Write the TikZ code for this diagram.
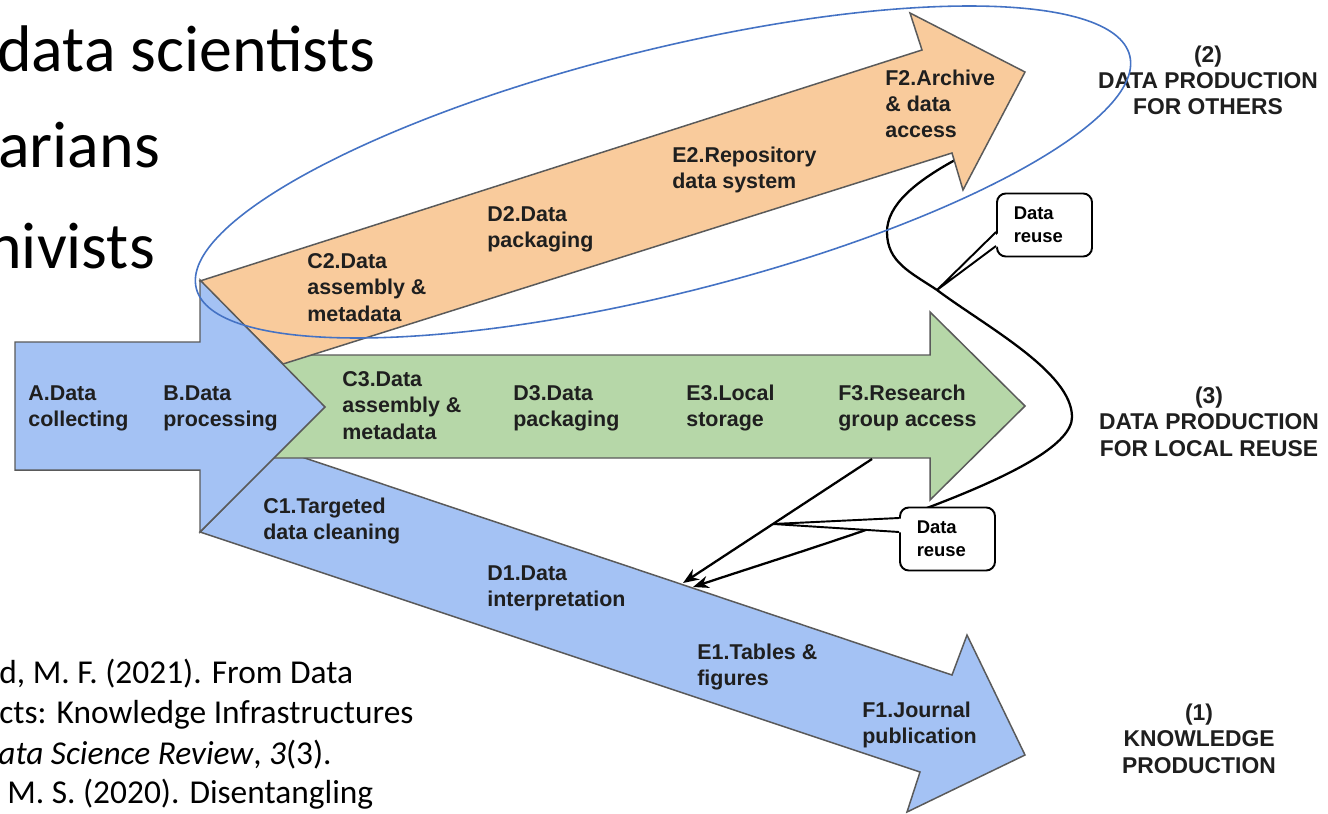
\documentclass[tikz,border=0pt]{standalone}
\usepackage{fontspec}
\setmainfont{Carlito}
\newfontfamily\arialf{Liberation Sans}
\usetikzlibrary{arrows.meta}
\definecolor{bluef}{HTML}{A4C2F4}
\definecolor{orangef}{HTML}{F9CB9C}
\definecolor{greenf}{HTML}{B6D7A8}
\definecolor{edgec}{HTML}{5A5A5A}
\definecolor{ellc}{HTML}{4472C4}
\definecolor{labc}{HTML}{1F1F1F}
\begin{document}
\begin{tikzpicture}[x=0.02cm,y=-0.02cm,
  flow/.style={draw=edgec, line width=0.85pt, line join=miter},
  lab/.style={anchor=base west, inner sep=0pt, align=left, text=labc,
    font=\arialf\bfseries\fontsize{12.2}{15}\selectfont},
  grp/.style={anchor=base, inner sep=0pt, align=center, text=labc,
    font=\arialf\bfseries\fontsize{13}{15}\selectfont},
  big/.style={anchor=base west, inner sep=0pt, font=\fontsize{37.5}{40}\selectfont},
  cite/.style={anchor=base west, inner sep=0pt, font=\fontsize{19}{22.7}\selectfont},
  reuse/.style={draw=black, line width=1.3pt},
  tipa/.style={-{Stealth[length=9pt,width=7pt]}},
  rbox/.style={draw=black, line width=1.1pt, fill=white, rounded corners=5pt,
    minimum width=95*0.02cm, minimum height=63*0.02cm, inner xsep=9pt,
    text width=35pt, align=left,
    font=\arialf\bfseries\fontsize{10.5}{13}\selectfont}
]
\useasboundingbox (0,0) rectangle (1328,814);
\clip (0,0) rectangle (1328,814);
\fill[white] (0,0) rectangle (1328,814);

% left texts
\node[big] (t1) at (-3,72) {data scientists};
\node[big] (t2) at (-2,168) {arians};
\node[big] (t3) at (-13,268) {hivists};

\node[cite] (q1) at (-1,683) {d, M. F. (2021). From Data};
\node[cite] (q2) at (-1,723) {cts: Knowledge Infrastructures};
\node[cite] (q3) at (-2,764) {\itshape ata Science Review\upshape, \itshape 3\upshape(3).};
\node[cite] (q4) at (7,803) {M. S. (2020). Disentangling};

% reuse curve (behind boxes)
\coordinate (c0) at (955,160);
\coordinate (c1) at (887,232);
\coordinate (ap1) at (937,290);
\coordinate (c3) at (1072,417);
\coordinate (c5) at (693,587);
\coordinate (g0) at (872,459);
\coordinate (a1) at (683,583);
\coordinate (ap2) at (773,524);

% arrows
\draw[flow, fill=bluef] (200,532) -- (281,450) -- (952,675) -- (967,635) -- (1025,755) -- (907,812) -- (920,772) -- cycle;
\draw[flow, fill=greenf] (260,355) -- (930,355) -- (930,312) -- (1025,406) -- (930,500) -- (930,458) -- (260,458) -- cycle;
\draw[reuse] (c0) .. controls (915,182) and (887,205) .. (c1)
   .. controls (887,262) and (910,272) .. (ap1);
\draw[flow, fill=orangef] (200,281) -- (922,50) -- (910,13) -- (1025,72) -- (963,190) -- (952,153) -- (283,364) -- cycle;
\draw[flow, fill=bluef] (15,342) -- (200,342) -- (200,280) -- (325,407) -- (200,532) -- (200,470) -- (15,470) -- cycle;

\draw[reuse, tipa] (ap1) .. controls (985,326) and (1072,372) .. (c3)
   .. controls (1072,470) and (850,535) .. (c5);
\draw[reuse, tipa] (g0) -- (a1);

% labels (y = baseline of last line)
\node[lab] (lA) at (28,426.5) {A.Data\\collecting};
\node[lab] (lB) at (163,426.5) {B.Data\\processing};
\node[lab] (lC2) at (307,321) {C2.Data\\assembly \&\\metadata};
\node[lab] (lD2) at (487,247.5) {D2.Data\\packaging};
\node[lab] (lE2) at (672,188.5) {E2.Repository\\data system};
\node[lab] (lF2) at (885,138) {F2.Archive\\\& data\\access};
\node[lab] (lC3) at (342,439) {C3.Data\\assembly \&\\metadata};
\node[lab] (lD3) at (513,426.5) {D3.Data\\packaging};
\node[lab] (lE3) at (686,426.5) {E3.Local\\storage};
\node[lab] (lF3) at (838,426.5) {F3.Research\\group access};
\node[lab] (lC1) at (263,539.5) {C1.Targeted\\data cleaning};
\node[lab] (lD1) at (487,606.5) {D1.Data\\interpretation};
\node[lab] (lE1) at (697,685.5) {E1.Tables \&\\figures};
\node[lab] (lF1) at (862,743.5) {F1.Journal\\publication};

\node[grp] (r2) at (1208,115) {(2)\\DATA PRODUCTION\\FOR OTHERS};
\node[grp] (r3) at (1209,456) {(3)\\DATA PRODUCTION\\FOR LOCAL REUSE};
\node[grp] (r1) at (1199,773) {(1)\\KNOWLEDGE\\PRODUCTION};

% callouts
\node[rbox] (b1) at (1044.5,225) {Data\\reuse};
\fill[white] (999,232.5) -- (ap1) -- (999,245.5) -- cycle;
\draw[black, line width=1.1pt, line join=round] (b1.west |- 0,232) -- (ap1) -- (b1.west |- 0,246);
\node[rbox] (b2) at (947.5,539) {Data\\reuse};
\fill[white] (902,518.5) -- (ap2) -- (902,532.5) -- cycle;
\draw[black, line width=1.1pt, line join=round] (b2.west |- 0,518) -- (ap2) -- (b2.west |- 0,532);

% ellipse
\draw[ellc, line width=0.9pt, rotate around={14:(663,172)}] (663,172) ellipse [x radius=481, y radius=122];
\end{tikzpicture}
\end{document}
